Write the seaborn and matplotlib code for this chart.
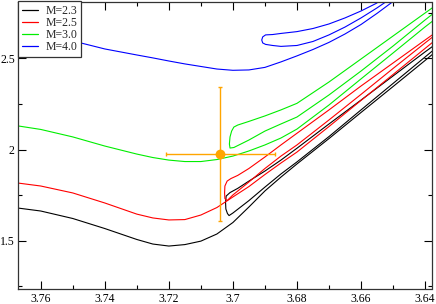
import matplotlib
matplotlib.use("Agg")
import matplotlib.pyplot as plt
import seaborn as sns
from matplotlib.ticker import MultipleLocator

# ---------------- data (log Teff, log L) ----------------
masses = ["M=2.3", "M=2.5", "M=3.0", "M=4.0"]
colors = ["black", "red", "#00ee00", "blue"]

# common log Teff grid of the pre-RGB / RGB branches
main_x = [3.767, 3.760, 3.750, 3.740, 3.730, 3.725, 3.720, 3.715, 3.710, 3.705,
          3.700, 3.695, 3.690, 3.685, 3.680, 3.670, 3.660, 3.650, 3.640, 3.636]

# M=2.3
m23_main_y = [1.679, 1.663, 1.622, 1.567, 1.507, 1.482, 1.471, 1.479, 1.498, 1.537,
              1.600, 1.685, 1.773, 1.849, 1.921, 2.060, 2.203, 2.345, 2.488, 2.546]
m23_he_x = [3.636, 3.640, 3.650, 3.660, 3.670, 3.680, 3.685, 3.690, 3.695, 3.6985,
            3.7009, 3.7021, 3.7023, 3.7022, 3.7017, 3.7012, 3.700, 3.695, 3.690,
            3.685, 3.680, 3.670, 3.660, 3.650, 3.640, 3.636]
m23_he_y = [2.586, 2.535, 2.403, 2.271, 2.140, 2.007, 1.942, 1.882, 1.827, 1.787,
            1.764, 1.745, 1.712, 1.674, 1.649, 1.638, 1.652, 1.720, 1.794,
            1.866, 1.932, 2.071, 2.217, 2.362, 2.507, 2.565]

# M=2.5
m25_main_y = [1.816, 1.800, 1.762, 1.707, 1.646, 1.625, 1.614, 1.616, 1.641, 1.682,
              1.740, 1.797, 1.863, 1.926, 1.986, 2.126, 2.269, 2.411, 2.554, 2.611]
m25_he_x = [3.636, 3.640, 3.650, 3.660, 3.670, 3.680, 3.685, 3.690, 3.695, 3.6985,
            3.7006, 3.7018, 3.7025, 3.7026, 3.7025, 3.7018, 3.700, 3.695, 3.690,
            3.685, 3.680, 3.670, 3.660, 3.650, 3.640, 3.636]
m25_he_y = [2.650, 2.600, 2.474, 2.348, 2.217, 2.089, 2.025, 1.959, 1.896, 1.858,
            1.841, 1.827, 1.800, 1.762, 1.731, 1.720, 1.751, 1.822, 1.896,
            1.964, 2.025, 2.162, 2.302, 2.444, 2.584, 2.639]

# M=3.0
m30_main_y = [2.129, 2.110, 2.069, 2.019, 1.975, 1.956, 1.942, 1.934, 1.934, 1.945,
              1.964, 1.992, 2.025, 2.063, 2.112, 2.244, 2.387, 2.529, 2.672, 2.726]
m30_he_x = [3.636, 3.640, 3.650, 3.660, 3.670, 3.680, 3.685, 3.690, 3.695, 3.6985,
            3.6997, 3.7004, 3.7009, 3.7011, 3.7009, 3.6997, 3.695, 3.690, 3.685,
            3.680, 3.670, 3.660, 3.650, 3.640, 3.636]
m30_he_y = [2.798, 2.748, 2.622, 2.496, 2.370, 2.253, 2.217, 2.184, 2.154, 2.134,
            2.123, 2.101, 2.069, 2.030, 2.008, 2.011, 2.052, 2.101, 2.140,
            2.178, 2.299, 2.430, 2.567, 2.710, 2.765]

# M=4.0
m40_main_x = [3.767, 3.760, 3.750, 3.740, 3.730, 3.725, 3.720, 3.715, 3.710, 3.705,
              3.700, 3.695, 3.690, 3.685, 3.680, 3.675, 3.670, 3.665, 3.660, 3.655,
              3.650, 3.645]
m40_main_y = [2.639, 2.622, 2.595, 2.551, 2.518, 2.502, 2.485, 2.469, 2.455, 2.441,
              2.434, 2.436, 2.450, 2.480, 2.513, 2.548, 2.587, 2.633, 2.685, 2.746,
              2.811, 2.881]
m40_he_x = [3.655, 3.660, 3.665, 3.670, 3.675, 3.680, 3.685, 3.6876, 3.6898, 3.6907,
            3.6910, 3.6907, 3.6898, 3.6876, 3.685, 3.680, 3.675, 3.670, 3.665,
            3.660, 3.655, 3.650]
m40_he_y = [2.803, 2.759, 2.721, 2.688, 2.663, 2.646, 2.636, 2.630, 2.628, 2.617,
            2.600, 2.584, 2.576, 2.570, 2.565, 2.570, 2.592, 2.628, 2.671,
            2.721, 2.776, 2.836]

tracks = [
    (main_x, m23_main_y, m23_he_x, m23_he_y),
    (main_x, m25_main_y, m25_he_x, m25_he_y),
    (main_x, m30_main_y, m30_he_x, m30_he_y),
    (m40_main_x, m40_main_y, m40_he_x, m40_he_y),
]

# observed star
star_x, star_y = [3.704], [1.975]
star_xerr, star_yerr = [0.017], [0.366]

x_ticks = [3.76, 3.74, 3.72, 3.70, 3.68, 3.66, 3.64]
x_tick_labels = ["3.76", "3.74", "3.72", "3.7", "3.68", "3.66", "3.64"]
y_ticks = [1.5, 2.0, 2.5]
y_tick_labels = ["1.5", "2", "2.5"]

# ---------------- plot ----------------
sns.set_style("ticks")
plt.rcParams["font.family"] = ["Liberation Serif", "DejaVu Serif"]
plt.rcParams["font.size"] = 8.5

fig = plt.figure(figsize=(4.36, 3.04), dpi=100)
ax = fig.add_axes([18.3 / 436, 1 - 289.3 / 304, (431.5 - 18.3) / 436, (289.3 - 1.5) / 304])

for (mx, my, hx, hy), lab, col in zip(tracks, masses, colors):
    sns.lineplot(x=mx, y=my, sort=False, estimator=None, color=col, lw=0.8,
                 ax=ax, label=lab)
    sns.lineplot(x=hx, y=hy, sort=False, estimator=None, color=col, lw=0.8,
                 ax=ax, legend=False)

ax.errorbar(star_x, star_y, xerr=star_xerr, yerr=star_yerr, fmt="none",
            ecolor="orange", elinewidth=1.0, capsize=1.5, capthick=1.0, zorder=5)
sns.scatterplot(x=star_x, y=star_y, color="orange", s=50, edgecolor="orange",
                linewidth=0, ax=ax, zorder=6, legend=False)

ax.set_xlim(3.767, 3.638)
ax.set_ylim(1.234, 2.811)
ax.set_xticks(x_ticks)
ax.set_xticklabels(x_tick_labels)
ax.set_yticks(y_ticks)
ax.set_yticklabels(y_tick_labels)
ax.xaxis.set_minor_locator(MultipleLocator(0.01))
ax.yaxis.set_minor_locator(MultipleLocator(0.25))
ax.tick_params(which="both", direction="in", top=True, right=True,
               width=0.8, colors="black", labelsize=8.5, pad=2.5)
ax.tick_params(which="major", length=6)
ax.tick_params(which="minor", length=3)
for s in ax.spines.values():
    s.set_linewidth(0.9)
    s.set_color("#333333")
ax.set_xlabel("")
ax.set_ylabel("")

leg = ax.legend(loc="upper left", bbox_to_anchor=(0, 1), borderaxespad=0,
                fancybox=False, framealpha=1, edgecolor="#333333",
                fontsize=8.5, handlelength=1.4, handletextpad=0.65,
                borderpad=0.3, labelspacing=0.0)
leg.get_frame().set_linewidth(0.9)
for line in leg.get_lines():
    line.set_linewidth(0.9)

fig.savefig("out.png", dpi=100)
